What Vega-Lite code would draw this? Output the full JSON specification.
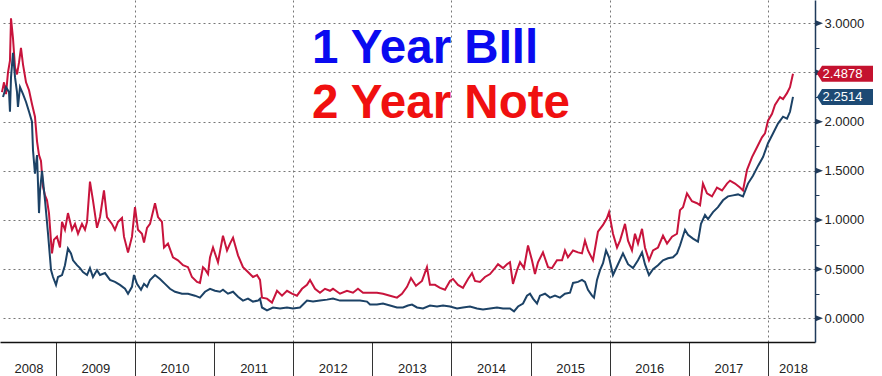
{
 "$schema": "https://vega.github.io/schema/vega-lite/v6.json",
 "width": 815, "height": 342,
 "autosize": {"type": "none"},
 "padding": {"left": 0, "top": 0, "right": 67, "bottom": 34},
 "background": "white",
 "config": {"view": {"stroke": null}},
 "datasets": {
  "note2": [
{"t":2008.319,"v":2.30},{"t":2008.345,"v":2.40},{"t":2008.370,"v":2.28},{"t":2008.395,"v":2.50},{"t":2008.420,"v":2.62},{"t":2008.433,"v":3.05},{"t":2008.458,"v":2.85},{"t":2008.484,"v":2.55},{"t":2008.509,"v":2.48},{"t":2008.534,"v":2.60},{"t":2008.559,"v":2.75},{"t":2008.585,"v":2.58},{"t":2008.623,"v":2.40},{"t":2008.661,"v":2.32},{"t":2008.698,"v":2.18},{"t":2008.736,"v":2.05},{"t":2008.762,"v":1.80},{"t":2008.787,"v":1.66},{"t":2008.812,"v":1.60},{"t":2008.837,"v":1.34},{"t":2008.863,"v":1.25},{"t":2008.888,"v":1.20},{"t":2008.913,"v":1.07},{"t":2008.939,"v":0.78},{"t":2008.951,"v":0.66},{"t":2008.976,"v":0.80},
{"t":2009.014,"v":0.83},{"t":2009.052,"v":0.72},{"t":2009.078,"v":0.98},{"t":2009.115,"v":0.90},{"t":2009.153,"v":1.07},{"t":2009.204,"v":0.90},{"t":2009.242,"v":0.96},{"t":2009.280,"v":0.86},{"t":2009.330,"v":0.96},{"t":2009.368,"v":0.90},{"t":2009.394,"v":0.98},{"t":2009.431,"v":1.39},{"t":2009.469,"v":1.20},{"t":2009.520,"v":0.92},{"t":2009.558,"v":1.03},{"t":2009.608,"v":1.30},{"t":2009.646,"v":1.03},{"t":2009.709,"v":0.96},{"t":2009.747,"v":0.90},{"t":2009.785,"v":0.98},{"t":2009.836,"v":1.02},{"t":2009.861,"v":0.83},{"t":2009.912,"v":0.67},{"t":2009.962,"v":0.83},
{"t":2010.000,"v":1.13},{"t":2010.038,"v":0.90},{"t":2010.088,"v":0.86},{"t":2010.114,"v":0.77},{"t":2010.152,"v":0.92},{"t":2010.190,"v":0.96},{"t":2010.253,"v":1.17},{"t":2010.291,"v":1.03},{"t":2010.341,"v":0.98},{"t":2010.367,"v":0.72},{"t":2010.417,"v":0.76},{"t":2010.480,"v":0.62},{"t":2010.543,"v":0.59},{"t":2010.607,"v":0.54},{"t":2010.670,"v":0.52},{"t":2010.720,"v":0.42},{"t":2010.784,"v":0.37},{"t":2010.821,"v":0.36},{"t":2010.859,"v":0.52},{"t":2010.885,"v":0.50},{"t":2010.923,"v":0.45},{"t":2010.948,"v":0.62},{"t":2010.986,"v":0.72},
{"t":2011.049,"v":0.57},{"t":2011.112,"v":0.84},{"t":2011.163,"v":0.69},{"t":2011.201,"v":0.76},{"t":2011.239,"v":0.82},{"t":2011.302,"v":0.64},{"t":2011.365,"v":0.52},{"t":2011.428,"v":0.47},{"t":2011.491,"v":0.42},{"t":2011.542,"v":0.44},{"t":2011.580,"v":0.39},{"t":2011.605,"v":0.21},{"t":2011.668,"v":0.20},{"t":2011.731,"v":0.16},{"t":2011.795,"v":0.28},{"t":2011.858,"v":0.23},{"t":2011.921,"v":0.28},{"t":2011.984,"v":0.25},
{"t":2012.047,"v":0.23},{"t":2012.111,"v":0.30},{"t":2012.174,"v":0.34},{"t":2012.212,"v":0.39},{"t":2012.275,"v":0.30},{"t":2012.338,"v":0.26},{"t":2012.401,"v":0.30},{"t":2012.464,"v":0.28},{"t":2012.502,"v":0.30},{"t":2012.591,"v":0.25},{"t":2012.679,"v":0.28},{"t":2012.755,"v":0.26},{"t":2012.818,"v":0.30},{"t":2012.882,"v":0.26},{"t":2012.970,"v":0.26},
{"t":2013.058,"v":0.26},{"t":2013.134,"v":0.25},{"t":2013.223,"v":0.23},{"t":2013.311,"v":0.21},{"t":2013.374,"v":0.25},{"t":2013.438,"v":0.32},{"t":2013.488,"v":0.41},{"t":2013.551,"v":0.33},{"t":2013.627,"v":0.38},{"t":2013.690,"v":0.52},{"t":2013.728,"v":0.34},{"t":2013.791,"v":0.34},{"t":2013.855,"v":0.31},{"t":2013.918,"v":0.29},{"t":2013.981,"v":0.38},
{"t":2014.019,"v":0.40},{"t":2014.082,"v":0.34},{"t":2014.145,"v":0.31},{"t":2014.209,"v":0.40},{"t":2014.259,"v":0.46},{"t":2014.297,"v":0.38},{"t":2014.360,"v":0.37},{"t":2014.423,"v":0.42},{"t":2014.487,"v":0.45},{"t":2014.550,"v":0.51},{"t":2014.588,"v":0.55},{"t":2014.651,"v":0.51},{"t":2014.701,"v":0.55},{"t":2014.739,"v":0.57},{"t":2014.777,"v":0.35},{"t":2014.828,"v":0.49},{"t":2014.866,"v":0.57},{"t":2014.916,"v":0.51},{"t":2014.967,"v":0.74},
{"t":2015.017,"v":0.59},{"t":2015.055,"v":0.45},{"t":2015.093,"v":0.57},{"t":2015.156,"v":0.67},{"t":2015.220,"v":0.52},{"t":2015.270,"v":0.51},{"t":2015.333,"v":0.59},{"t":2015.397,"v":0.59},{"t":2015.434,"v":0.69},{"t":2015.472,"v":0.62},{"t":2015.536,"v":0.69},{"t":2015.599,"v":0.67},{"t":2015.649,"v":0.66},{"t":2015.687,"v":0.79},{"t":2015.725,"v":0.69},{"t":2015.788,"v":0.59},{"t":2015.851,"v":0.88},{"t":2015.915,"v":0.95},{"t":2015.965,"v":1.02},{"t":2015.991,"v":1.08},
{"t":2016.041,"v":0.86},{"t":2016.092,"v":0.72},{"t":2016.130,"v":0.79},{"t":2016.193,"v":0.96},{"t":2016.231,"v":0.79},{"t":2016.281,"v":0.69},{"t":2016.319,"v":0.86},{"t":2016.357,"v":0.76},{"t":2016.408,"v":0.91},{"t":2016.445,"v":0.72},{"t":2016.496,"v":0.59},{"t":2016.547,"v":0.69},{"t":2016.610,"v":0.72},{"t":2016.673,"v":0.84},{"t":2016.724,"v":0.76},{"t":2016.787,"v":0.83},{"t":2016.850,"v":0.86},{"t":2016.888,"v":1.10},{"t":2016.926,"v":1.13},{"t":2016.976,"v":1.27},
{"t":2017.039,"v":1.19},{"t":2017.103,"v":1.17},{"t":2017.141,"v":1.15},{"t":2017.178,"v":1.37},{"t":2017.229,"v":1.27},{"t":2017.292,"v":1.24},{"t":2017.355,"v":1.33},{"t":2017.419,"v":1.30},{"t":2017.482,"v":1.37},{"t":2017.520,"v":1.40},{"t":2017.583,"v":1.37},{"t":2017.646,"v":1.33},{"t":2017.684,"v":1.30},{"t":2017.735,"v":1.51},{"t":2017.798,"v":1.64},{"t":2017.861,"v":1.74},{"t":2017.924,"v":1.84},{"t":2017.962,"v":1.88},
{"t":2018.000,"v":2.01},{"t":2018.051,"v":2.08},{"t":2018.088,"v":2.17},{"t":2018.152,"v":2.25},{"t":2018.190,"v":2.23},{"t":2018.240,"v":2.29},{"t":2018.278,"v":2.35},{"t":2018.316,"v":2.4878}
  ],
  "bill1": [
{"t":2008.332,"v":2.25},{"t":2008.370,"v":2.35},{"t":2008.408,"v":2.30},{"t":2008.420,"v":2.10},{"t":2008.433,"v":2.45},{"t":2008.458,"v":2.70},{"t":2008.484,"v":2.45},{"t":2008.509,"v":2.30},{"t":2008.521,"v":2.15},{"t":2008.547,"v":2.35},{"t":2008.585,"v":2.28},{"t":2008.623,"v":2.20},{"t":2008.661,"v":2.10},{"t":2008.698,"v":2.00},{"t":2008.711,"v":1.71},{"t":2008.736,"v":1.47},{"t":2008.762,"v":1.66},{"t":2008.787,"v":1.07},{"t":2008.800,"v":1.30},{"t":2008.825,"v":1.50},{"t":2008.863,"v":1.20},{"t":2008.901,"v":0.86},{"t":2008.939,"v":0.49},{"t":2008.964,"v":0.42},
{"t":2009.002,"v":0.34},{"t":2009.027,"v":0.42},{"t":2009.078,"v":0.44},{"t":2009.115,"v":0.54},{"t":2009.153,"v":0.71},{"t":2009.191,"v":0.66},{"t":2009.217,"v":0.59},{"t":2009.267,"v":0.54},{"t":2009.305,"v":0.51},{"t":2009.343,"v":0.47},{"t":2009.394,"v":0.44},{"t":2009.431,"v":0.51},{"t":2009.469,"v":0.42},{"t":2009.520,"v":0.49},{"t":2009.558,"v":0.44},{"t":2009.621,"v":0.46},{"t":2009.684,"v":0.39},{"t":2009.747,"v":0.37},{"t":2009.810,"v":0.34},{"t":2009.874,"v":0.30},{"t":2009.912,"v":0.25},{"t":2009.962,"v":0.32},{"t":2009.987,"v":0.44},
{"t":2010.025,"v":0.35},{"t":2010.076,"v":0.29},{"t":2010.114,"v":0.35},{"t":2010.152,"v":0.32},{"t":2010.190,"v":0.39},{"t":2010.253,"v":0.44},{"t":2010.316,"v":0.40},{"t":2010.379,"v":0.35},{"t":2010.442,"v":0.30},{"t":2010.506,"v":0.27},{"t":2010.594,"v":0.25},{"t":2010.670,"v":0.25},{"t":2010.758,"v":0.23},{"t":2010.821,"v":0.21},{"t":2010.885,"v":0.27},{"t":2010.948,"v":0.30},
{"t":2011.011,"v":0.28},{"t":2011.074,"v":0.27},{"t":2011.112,"v":0.29},{"t":2011.175,"v":0.25},{"t":2011.239,"v":0.27},{"t":2011.302,"v":0.22},{"t":2011.365,"v":0.18},{"t":2011.428,"v":0.20},{"t":2011.491,"v":0.17},{"t":2011.555,"v":0.18},{"t":2011.580,"v":0.20},{"t":2011.605,"v":0.11},{"t":2011.668,"v":0.08},{"t":2011.744,"v":0.11},{"t":2011.833,"v":0.10},{"t":2011.921,"v":0.11},{"t":2011.997,"v":0.10},
{"t":2012.085,"v":0.11},{"t":2012.174,"v":0.18},{"t":2012.250,"v":0.17},{"t":2012.338,"v":0.18},{"t":2012.427,"v":0.19},{"t":2012.502,"v":0.20},{"t":2012.591,"v":0.18},{"t":2012.679,"v":0.18},{"t":2012.755,"v":0.18},{"t":2012.844,"v":0.18},{"t":2012.932,"v":0.17},{"t":2012.970,"v":0.14},
{"t":2013.058,"v":0.14},{"t":2013.134,"v":0.15},{"t":2013.223,"v":0.13},{"t":2013.311,"v":0.11},{"t":2013.387,"v":0.11},{"t":2013.450,"v":0.13},{"t":2013.501,"v":0.14},{"t":2013.564,"v":0.11},{"t":2013.640,"v":0.10},{"t":2013.728,"v":0.13},{"t":2013.817,"v":0.12},{"t":2013.893,"v":0.13},{"t":2013.981,"v":0.12},
{"t":2014.070,"v":0.10},{"t":2014.145,"v":0.11},{"t":2014.234,"v":0.12},{"t":2014.322,"v":0.10},{"t":2014.398,"v":0.09},{"t":2014.487,"v":0.10},{"t":2014.575,"v":0.11},{"t":2014.651,"v":0.10},{"t":2014.739,"v":0.10},{"t":2014.790,"v":0.07},{"t":2014.841,"v":0.12},{"t":2014.904,"v":0.15},{"t":2014.954,"v":0.23},{"t":2014.992,"v":0.25},
{"t":2015.030,"v":0.20},{"t":2015.081,"v":0.15},{"t":2015.118,"v":0.23},{"t":2015.182,"v":0.25},{"t":2015.245,"v":0.21},{"t":2015.308,"v":0.23},{"t":2015.371,"v":0.21},{"t":2015.434,"v":0.25},{"t":2015.498,"v":0.26},{"t":2015.536,"v":0.36},{"t":2015.599,"v":0.37},{"t":2015.649,"v":0.39},{"t":2015.687,"v":0.37},{"t":2015.725,"v":0.29},{"t":2015.776,"v":0.23},{"t":2015.801,"v":0.21},{"t":2015.839,"v":0.39},{"t":2015.877,"v":0.49},{"t":2015.915,"v":0.56},{"t":2015.953,"v":0.69},{"t":2015.991,"v":0.62},
{"t":2016.041,"v":0.44},{"t":2016.104,"v":0.55},{"t":2016.167,"v":0.66},{"t":2016.231,"v":0.55},{"t":2016.294,"v":0.51},{"t":2016.357,"v":0.59},{"t":2016.408,"v":0.67},{"t":2016.445,"v":0.55},{"t":2016.496,"v":0.44},{"t":2016.547,"v":0.50},{"t":2016.610,"v":0.54},{"t":2016.673,"v":0.59},{"t":2016.736,"v":0.61},{"t":2016.799,"v":0.62},{"t":2016.850,"v":0.66},{"t":2016.888,"v":0.74},{"t":2016.951,"v":0.90},{"t":2016.989,"v":0.85},
{"t":2017.052,"v":0.81},{"t":2017.115,"v":0.78},{"t":2017.153,"v":0.96},{"t":2017.204,"v":1.05},{"t":2017.242,"v":1.01},{"t":2017.305,"v":1.08},{"t":2017.368,"v":1.13},{"t":2017.431,"v":1.20},{"t":2017.494,"v":1.24},{"t":2017.558,"v":1.25},{"t":2017.621,"v":1.26},{"t":2017.684,"v":1.24},{"t":2017.747,"v":1.37},{"t":2017.810,"v":1.45},{"t":2017.874,"v":1.55},{"t":2017.937,"v":1.64},
{"t":2018.000,"v":1.78},{"t":2018.063,"v":1.88},{"t":2018.126,"v":1.98},{"t":2018.190,"v":2.05},{"t":2018.240,"v":2.03},{"t":2018.278,"v":2.10},{"t":2018.316,"v":2.2514}
  ],
  "titles": [
   {"t": 2012.237, "v": 2.596, "label": "1 Year BIll", "c": "#0a0af0"},
   {"t": 2012.237, "v": 2.037, "label": "2 Year Note", "c": "#f01010"}
  ],
  "badges": [
   {"t": 2018.973, "v": 2.4878, "label": "2.4878", "c": "#c4122f"},
   {"t": 2018.973, "v": 2.2514, "label": "2.2514", "c": "#1d4a74"}
  ],
  "axismarks": [
   {"t": 2018.594, "v": 0}, {"t": 2018.594, "v": 0.5}, {"t": 2018.594, "v": 1}, {"t": 2018.594, "v": 1.5},
   {"t": 2018.594, "v": 2}, {"t": 2018.594, "v": 2.5}, {"t": 2018.594, "v": 3}
  ]
 },
 "encoding": {
  "x": {"field": "t", "type": "quantitative",
   "scale": {"domain": [2008.294, 2018.594], "nice": false, "zero": false},
   "axis": {
    "title": null, "orient": "bottom",
    "values": [2008.338, 2009, 2010, 2011, 2012, 2013, 2014, 2015, 2016, 2017, 2018],
    "domainColor": "#111", "domainWidth": 1.5,
    "ticks": true, "tickSize": 34, "tickColor": "#333", "tickWidth": 1,
    "tickOpacity": {"condition": {"test": "datum.value < 2009", "value": 0}, "value": 1},
    "grid": true, "gridColor": "#777", "gridDash": [2, 3], "gridWidth": 1,
    "gridOpacity": {"condition": {"test": "datum.value % 2 == 0 && datum.value > 2009", "value": 1}, "value": 0},
    "labelExpr": "format(floor(datum.value), 'd')",
    "labelOffset": 39.5,
    "labelAlign": {"condition": [{"test": "datum.value < 2009", "value": "right"}, {"test": "datum.value > 2017.5", "value": "right"}], "value": "center"},
    "labelPadding": -14, "labelBaseline": "top",
    "labelFlush": false, "labelOverlap": false, "labelBound": false,
    "labelFont": "Liberation Sans", "labelFontSize": 13, "labelColor": "#222"
   }},
  "y": {"field": "v", "type": "quantitative",
   "scale": {"domain": [-0.241, 3.237], "nice": false, "zero": false},
   "axis": {
    "title": null, "orient": "right",
    "values": [0, 0.25, 0.5, 0.75, 1, 1.25, 1.5, 1.75, 2, 2.25, 2.5, 2.75, 3],
    "domainColor": "#1f3a5a", "domainWidth": 1.5,
    "ticks": true, "tickSize": 4, "tickColor": "#1f3a5a", "tickWidth": 1,
    "grid": true, "gridColor": "#777", "gridDash": [2, 3], "gridWidth": 1,
    "gridOpacity": {"condition": {"test": "round(datum.value * 2) == datum.value * 2", "value": 1}, "value": 0},
    "labelExpr": "(round(datum.value * 2) != datum.value * 2 || datum.value == 2.5) ? '' : format(datum.value, '.4f')",
    "labelPadding": 5, "labelAlign": "left", "labelBaseline": "middle",
    "labelFlush": false, "labelOverlap": false, "labelBound": false,
    "labelFont": "Liberation Sans", "labelFontSize": 13, "labelColor": "#222"
   }}
 },
 "layer": [
  {
   "data": {"name": "note2"},
   "mark": {"type": "line", "color": "#c8143c", "strokeWidth": 2}
  },
  {
   "data": {"name": "bill1"},
   "mark": {"type": "line", "color": "#1c4266", "strokeWidth": 2}
  },
  {
   "data": {"name": "titles"},
   "mark": {"type": "text", "align": "left", "baseline": "alphabetic", "font": "Liberation Sans", "fontWeight": "bold", "fontSize": 47.5},
   "encoding": {
    "text": {"field": "label"},
    "color": {"field": "c", "type": "nominal", "scale": null}
   }
  },
  {
   "data": {"name": "axismarks"},
   "mark": {"type": "point", "shape": "M0,-0.8L2,0L0,0.8Z", "size": 64, "filled": true, "opacity": 1, "strokeWidth": 0, "color": "#1f3a5a"}
  },
  {
   "data": {"name": "badges"},
   "mark": {"type": "point", "shape": "M-1,0L-0.82,-0.286L1,-0.286L1,0.286L-0.82,0.286Z", "size": 3136, "filled": true, "opacity": 1, "strokeWidth": 0},
   "encoding": {"color": {"field": "c", "type": "nominal", "scale": null}}
  },
  {
   "data": {"name": "badges"},
   "mark": {"type": "text", "align": "center", "baseline": "middle", "dx": -2.5, "font": "Liberation Sans", "fontSize": 13, "color": "white"},
   "encoding": {"text": {"field": "label"}}
  }
 ]
}
